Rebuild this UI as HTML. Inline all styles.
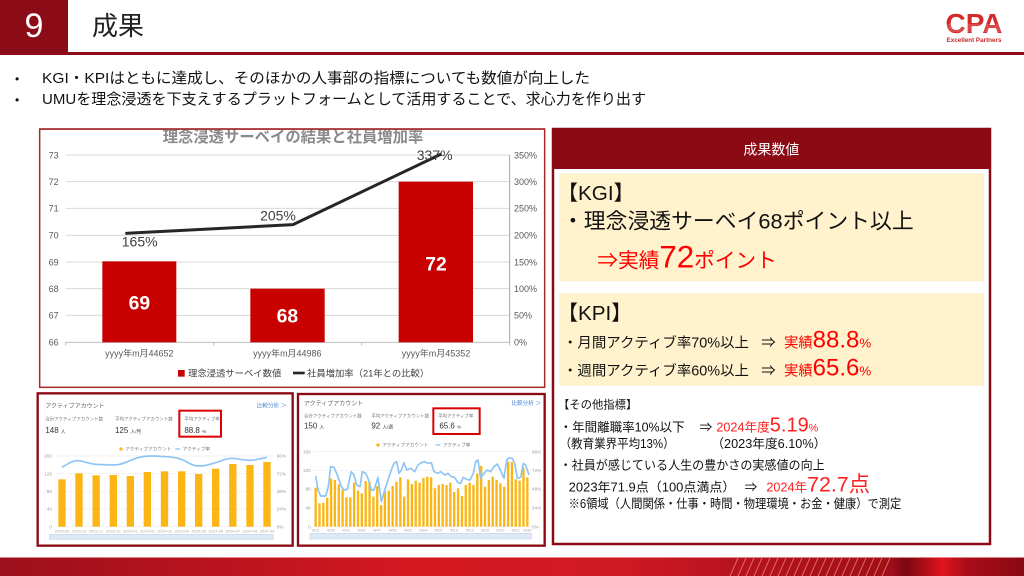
<!DOCTYPE html>
<html><head><meta charset="utf-8"><style>
html,body{margin:0;padding:0;background:#fff;width:1024px;height:576px;overflow:hidden;}
svg{display:block;}
text{font-family:"Liberation Sans","Noto Sans CJK JP",sans-serif;}
.n{font-family:"Liberation Sans Narrow","Liberation Sans","Noto Sans CJK JP",sans-serif;}
</style></head><body>
<svg width="1024" height="576" viewBox="0 0 1024 576" xmlns="http://www.w3.org/2000/svg">
<defs>
<linearGradient id="strip" x1="0" x2="1" y1="0" y2="0">
 <stop offset="0" stop-color="#9c0f1c"/>
 <stop offset="0.4" stop-color="#d41820"/>
 <stop offset="0.6" stop-color="#d01a22"/>
 <stop offset="0.72" stop-color="#b81220"/>
 <stop offset="0.87" stop-color="#a00e1a"/>
 <stop offset="0.885" stop-color="#7a0812"/>
 <stop offset="0.92" stop-color="#e0141e"/>
 <stop offset="0.945" stop-color="#a80c18"/>
 <stop offset="1" stop-color="#8a0a14"/>
</linearGradient>
<clipPath id="c1"><rect x="5" y="15" width="1515" height="775"/></clipPath>
</defs>

<!-- Header -->
<rect x="0" y="0" width="68" height="53" fill="#8b0b16"/>
<rect x="0" y="52" width="1024" height="3" fill="#8b0b16"/>
<text x="34" y="37" font-size="34" fill="#fff" text-anchor="middle">9</text>
<text x="92" y="35" font-size="26" fill="#222" font-family="Noto Sans CJK JP, sans-serif">成果</text>
<text x="974" y="33" font-size="28" font-weight="bold" fill="#d42a2a" text-anchor="middle">CPA</text>
<g stroke="#fff" stroke-width="0.6" opacity="0.6">
<line x1="944" y1="25" x2="1004" y2="25"/><line x1="944" y1="27" x2="1004" y2="27"/><line x1="944" y1="29" x2="1004" y2="29"/><line x1="944" y1="31" x2="1004" y2="31"/>
</g>
<text x="974" y="42" font-size="6.3" font-weight="bold" fill="#c82828" text-anchor="middle">Excellent Partners</text>

<!-- Bullets -->
<text x="15" y="83" font-size="12" fill="#111">•</text>
<text x="42" y="83" font-size="15" fill="#111" textLength="548" lengthAdjust="spacingAndGlyphs">KGI・KPIはともに達成し、そのほかの人事部の指標についても数値が向上した</text>
<text x="15" y="104" font-size="12" fill="#111">•</text>
<text x="42" y="104" font-size="15" fill="#111" textLength="604" lengthAdjust="spacingAndGlyphs">UMUを理念浸透を下支えするプラットフォームとして活用することで、求心力を作り出す</text>

<!-- Main chart -->
<g transform="translate(38,124) scale(0.33333)">
<rect x="5" y="15" width="1515" height="775" fill="#fff" stroke="#a52a2a" stroke-width="4.5"/>
<g clip-path="url(#c1)">
<text x="765" y="54" font-size="46" font-weight="bold" fill="#8a8a8a" text-anchor="middle">理念浸透サーベイの結果と社員増加率</text>
</g>
<rect x="5" y="13" width="1515" height="4.5" fill="#a52a2a"/>
<g stroke="#d9d9d9" stroke-width="3">
<line x1="83" y1="93" x2="1415" y2="93"/><line x1="83" y1="173" x2="1415" y2="173"/><line x1="83" y1="253" x2="1415" y2="253"/><line x1="83" y1="334" x2="1415" y2="334"/><line x1="83" y1="414" x2="1415" y2="414"/><line x1="83" y1="494" x2="1415" y2="494"/><line x1="83" y1="574" x2="1415" y2="574"/>
</g>
<line x1="83" y1="655" x2="1415" y2="655" stroke="#bfbfbf" stroke-width="3"/>
<g stroke="#bfbfbf" stroke-width="3"><line x1="83" y1="655" x2="83" y2="665"/><line x1="527" y1="655" x2="527" y2="665"/><line x1="971" y1="655" x2="971" y2="665"/><line x1="1415" y1="655" x2="1415" y2="665"/></g>
<line x1="1415" y1="93" x2="1415" y2="655" stroke="#a6a6a6" stroke-width="3"/>
<g font-size="27" fill="#595959" text-anchor="end" class="n">
<text x="62" y="103" class="n">73</text><text x="62" y="183" class="n">72</text><text x="62" y="263" class="n">71</text><text x="62" y="344" class="n">70</text><text x="62" y="424" class="n">69</text><text x="62" y="504" class="n">68</text><text x="62" y="584" class="n">67</text><text x="62" y="665" class="n">66</text>
</g>
<g font-size="27" fill="#595959">
<text x="1428" y="103" class="n">350%</text><text x="1428" y="183" class="n">300%</text><text x="1428" y="263" class="n">250%</text><text x="1428" y="344" class="n">200%</text><text x="1428" y="424" class="n">150%</text><text x="1428" y="504" class="n">100%</text><text x="1428" y="584" class="n">50%</text><text x="1428" y="665" class="n">0%</text>
</g>
<rect x="193" y="412" width="222" height="243" fill="#c80000"/>
<rect x="637" y="494" width="223" height="161" fill="#c80000"/>
<rect x="1082" y="173" width="223" height="482" fill="#c80000"/>
<g font-size="58" font-weight="bold" fill="#fff" text-anchor="middle">
<text x="304" y="556" class="n">69</text><text x="748" y="596" class="n">68</text><text x="1194" y="439" class="n">72</text>
</g>
<polyline points="262,328 765,302 1210,90" fill="none" stroke="#262626" stroke-width="9"/>
<g font-size="42" fill="#404040" text-anchor="middle">
<text x="305" y="367" class="n">165%</text><text x="720" y="290" class="n">205%</text><text x="1190" y="108" class="n">337%</text>
</g>
<g font-size="27" fill="#595959" text-anchor="middle">
<text x="304" y="698">yyyy年m月44652</text><text x="748" y="698">yyyy年m月44986</text><text x="1194" y="698">yyyy年m月45352</text>
</g>
<rect x="420" y="738" width="20" height="20" fill="#c80000"/>
<text x="450" y="757" font-size="28" fill="#404040">理念浸透サーベイ数値</text>
<line x1="765" y1="747" x2="800" y2="747" stroke="#262626" stroke-width="8"/>
<text x="807" y="757" font-size="28" fill="#404040">社員増加率（21年との比較）</text>
</g>

<!-- Small chart 1 -->
<g transform="translate(36,390) scale(0.33333)">
<rect x="5" y="10" width="765" height="457" fill="#fff" stroke="#8b0a14" stroke-width="7"/>
<text x="28" y="54" font-size="18" fill="#666">アクティブアカウント</text>
<text x="662" y="53" font-size="17" fill="#4a7fd4">比較分析 ＞</text>
<g font-size="13.5" fill="#777"><text x="28" y="92">合計アクティブアカウント数</text><text x="237" y="92">平均アクティブアカウント数</text><text x="445" y="92">平均アクティブ率</text></g>
<g font-size="24" fill="#333"><text x="28" y="129">148 <tspan font-size="14">人</tspan></text><text x="237" y="129">125 <tspan font-size="14">人/月</tspan></text><text x="445" y="129">88.8 <tspan font-size="14">%</tspan></text></g>
<rect x="430" y="62" width="125" height="78" fill="none" stroke="#d00" stroke-width="6"/>
<circle cx="255" cy="177" r="5" fill="#fbb615"/>
<text x="268" y="182" font-size="14" fill="#777">アクティブアカウント</text>
<line x1="418" y1="177" x2="432" y2="177" stroke="#8ec5f5" stroke-width="4"/>
<text x="440" y="182" font-size="14" fill="#777">アクティブ率</text>
<g stroke="#eee" stroke-width="2"><line x1="60" y1="198" x2="712" y2="198"/><line x1="60" y1="251" x2="712" y2="251"/><line x1="60" y1="304" x2="712" y2="304"/><line x1="60" y1="357" x2="712" y2="357"/><line x1="60" y1="410" x2="712" y2="410"/></g>
<g font-size="14" fill="#999" text-anchor="end"><text x="48" y="203">160</text><text x="48" y="256">120</text><text x="48" y="309">80</text><text x="48" y="362">40</text><text x="48" y="415">0</text></g>
<g font-size="14" fill="#999"><text x="722" y="203">96%</text><text x="722" y="256">72%</text><text x="722" y="309">48%</text><text x="722" y="362">24%</text><text x="722" y="415">0%</text></g>
<g fill="#fbb615">
<rect x="67" y="268" width="22" height="142"/><rect x="118" y="250" width="22" height="160"/><rect x="169.5" y="256" width="22" height="154"/><rect x="221" y="255" width="22" height="155"/><rect x="272" y="258" width="22" height="152"/><rect x="323" y="246" width="22" height="164"/><rect x="374.5" y="244" width="22" height="166"/><rect x="426" y="244" width="22" height="166"/><rect x="477" y="252" width="22" height="158"/><rect x="528" y="236" width="22" height="174"/><rect x="579.5" y="222" width="22" height="188"/><rect x="631" y="225" width="22" height="185"/><rect x="682" y="216" width="22" height="194"/>
</g>
<path d="M78,232 C100,218 115,210 130,212 S160,222 180,223 S225,226 245,224 S285,208 310,202 S360,198 390,200 S430,205 445,212 S470,228 490,228 S525,222 545,216 S575,204 590,205 S630,212 645,211 S680,205 693,202" fill="none" stroke="#8ec5f5" stroke-width="5"/>
<g font-size="12" fill="#aaa" text-anchor="middle"><text x="78" y="428">2023-09</text><text x="129" y="428">2023-10</text><text x="180" y="428">2023-11</text><text x="232" y="428">2023-12</text><text x="283" y="428">2024-01</text><text x="334" y="428">2024-02</text><text x="386" y="428">2024-03</text><text x="437" y="428">2024-04</text><text x="488" y="428">2024-05</text><text x="539" y="428">2024-06</text><text x="590" y="428">2024-07</text><text x="642" y="428">2024-08</text><text x="693" y="428">2024-09</text></g>
<rect x="40" y="433" width="672" height="15" fill="#dde9f7" stroke="#c7d6ea" stroke-width="2"/>
</g>

<!-- Small chart 2 -->
<g transform="translate(294,390) scale(0.33333)">
<rect x="12" y="12" width="740" height="455" fill="#fff" stroke="#8b0a14" stroke-width="7"/>
<text x="30" y="46" font-size="18" fill="#666">アクティブアカウント</text>
<text x="652" y="45" font-size="17" fill="#4a7fd4">比較分析 ＞</text>
<g font-size="13.5" fill="#777"><text x="30" y="82">合計アクティブアカウント数</text><text x="232" y="82">平均アクティブアカウント数</text><text x="432" y="82">平均アクティブ率</text></g>
<g font-size="24" fill="#333"><text x="30" y="116">150 <tspan font-size="14">人</tspan></text><text x="232" y="116">92 <tspan font-size="14">人/週</tspan></text><text x="436" y="116">65.6 <tspan font-size="14">%</tspan></text></g>
<rect x="418" y="55" width="139" height="77" fill="none" stroke="#d00" stroke-width="6"/>
<circle cx="252" cy="165" r="5" fill="#fbb615"/>
<text x="265" y="170" font-size="14" fill="#777">アクティブアカウント</text>
<line x1="425" y1="165" x2="439" y2="165" stroke="#8ec5f5" stroke-width="4"/>
<text x="447" y="170" font-size="14" fill="#777">アクティブ率</text>
<g stroke="#eee" stroke-width="2"><line x1="60" y1="185" x2="708" y2="185"/><line x1="60" y1="241" x2="708" y2="241"/><line x1="60" y1="297" x2="708" y2="297"/><line x1="60" y1="354" x2="708" y2="354"/><line x1="60" y1="410" x2="708" y2="410"/></g>
<g font-size="14" fill="#999" text-anchor="end"><text x="50" y="190">160</text><text x="50" y="246">120</text><text x="50" y="302">80</text><text x="50" y="359">40</text><text x="50" y="415">0</text></g>
<g font-size="14" fill="#999"><text x="714" y="190">96%</text><text x="714" y="246">72%</text><text x="714" y="302">48%</text><text x="714" y="359">24%</text><text x="714" y="415">0%</text></g>
<g fill="#fbb615">
<rect x="61.5" y="293" width="7" height="117"/><rect x="73" y="340" width="7" height="70"/><rect x="84.6" y="338" width="7" height="72"/><rect x="96.1" y="323" width="7" height="87"/><rect x="107.7" y="266" width="7" height="144"/><rect x="119.2" y="270" width="7" height="140"/><rect x="130.8" y="283" width="7" height="127"/><rect x="142.3" y="300" width="7" height="110"/><rect x="153.9" y="322" width="7" height="88"/><rect x="165.4" y="322" width="7" height="88"/><rect x="177" y="278" width="7" height="132"/><rect x="188.5" y="302" width="7" height="108"/><rect x="200" y="310" width="7" height="100"/><rect x="211.6" y="273" width="7" height="137"/><rect x="223.1" y="275" width="7" height="135"/><rect x="234.7" y="320" width="7" height="90"/><rect x="246.2" y="288" width="7" height="122"/><rect x="257.8" y="345" width="7" height="65"/><rect x="269.3" y="302" width="7" height="108"/><rect x="280.9" y="302" width="7" height="108"/><rect x="292.4" y="288" width="7" height="122"/><rect x="303.9" y="275" width="7" height="135"/><rect x="315.5" y="262" width="7" height="148"/><rect x="327" y="320" width="7" height="90"/><rect x="338.6" y="268" width="7" height="142"/><rect x="350.1" y="282" width="7" height="128"/><rect x="361.7" y="272" width="7" height="138"/><rect x="373.2" y="278" width="7" height="132"/><rect x="384.8" y="264" width="7" height="146"/><rect x="396.3" y="260" width="7" height="150"/><rect x="407.9" y="262" width="7" height="148"/><rect x="419.4" y="295" width="7" height="115"/><rect x="430.9" y="285" width="7" height="125"/><rect x="442.5" y="282" width="7" height="128"/><rect x="454" y="285" width="7" height="125"/><rect x="465.6" y="278" width="7" height="132"/><rect x="477.1" y="306" width="7" height="104"/><rect x="488.7" y="295" width="7" height="115"/><rect x="500.2" y="318" width="7" height="92"/><rect x="511.8" y="285" width="7" height="125"/><rect x="523.3" y="278" width="7" height="132"/><rect x="534.8" y="285" width="7" height="125"/><rect x="546.4" y="250" width="7" height="160"/><rect x="557.9" y="228" width="7" height="182"/><rect x="569.5" y="290" width="7" height="120"/><rect x="581" y="270" width="7" height="140"/><rect x="592.6" y="260" width="7" height="150"/><rect x="604.1" y="270" width="7" height="140"/><rect x="615.7" y="280" width="7" height="130"/><rect x="627.2" y="290" width="7" height="120"/><rect x="638.8" y="215" width="7" height="195"/><rect x="650.3" y="216" width="7" height="194"/><rect x="661.8" y="268" width="7" height="142"/><rect x="673.4" y="272" width="7" height="138"/><rect x="684.9" y="232" width="7" height="178"/><rect x="696.5" y="262" width="7" height="148"/>
</g>
<polyline fill="none" stroke="#8ec5f5" stroke-width="5" stroke-linejoin="round" points="65,258 72,300 80,318 95,318 103,290 110,230 120,232 130,255 142,290 150,300 160,298 172,245 180,255 188,285 198,290 205,245 215,250 222,265 232,300 240,300 252,262 262,335 272,300 282,270 292,240 300,220 308,215 315,250 322,240 330,218 338,240 350,235 362,245 372,225 382,218 392,215 402,220 412,218 420,245 432,250 440,245 452,255 462,250 472,260 482,262 492,278 500,280 508,262 518,268 528,270 538,250 545,215 552,210 560,265 570,250 580,240 590,245 600,230 610,222 620,242 630,265 638,210 645,204 655,205 662,220 670,265 680,262 688,220 695,225 705,255"/>
<g font-size="12" fill="#aaa" text-anchor="middle"><text x="65" y="425">W31</text><text x="111" y="425">W36</text><text x="157" y="425">W41</text><text x="203" y="425">W46</text><text x="249" y="425">W47</text><text x="296" y="425">W50</text><text x="342" y="425">W03</text><text x="388" y="425">W04</text><text x="434" y="425">W07</text><text x="480" y="425">W10</text><text x="527" y="425">W12</text><text x="573" y="425">W16</text><text x="619" y="425">W19</text><text x="665" y="425">W22</text><text x="700" y="425">W30</text></g>
<rect x="48" y="430" width="664" height="17" fill="#dde9f7" stroke="#c7d6ea" stroke-width="2"/>
</g>

<!-- Right panel -->
<rect x="553" y="129" width="437" height="415" fill="#fff" stroke="#8b0a14" stroke-width="2.5"/>
<rect x="552" y="128" width="439" height="41" fill="#8b0a14"/>
<g transform="translate(548,124) scale(0.33333)">
<text x="670" y="91" font-size="42" fill="#fff" text-anchor="middle">成果数値</text>
<rect x="33" y="148" width="1275" height="324" fill="#fff2cc"/>
<text x="28" y="228" font-size="62" fill="#111">【KGI】</text>
<text x="42" y="314" font-size="65" fill="#111" textLength="1055" lengthAdjust="spacingAndGlyphs">・理念浸透サーベイ68ポイント以上</text>
<text x="148" y="430" font-size="62" fill="#ff0000">⇒実績<tspan font-size="94">72</tspan>ポイント</text>
<rect x="33" y="508" width="1275" height="277" fill="#fff2cc"/>
<text x="28" y="588" font-size="62" fill="#111">【KPI】</text>
<text x="45" y="671" font-size="43" fill="#111" textLength="558" lengthAdjust="spacingAndGlyphs">・月間アクティブ率70%以上</text>
<text x="640" y="671" font-size="43" fill="#111">⇒</text>
<text x="708" y="671" font-size="43" fill="#ff0000">実績<tspan font-size="72">88.8</tspan><tspan font-size="40">%</tspan></text>
<text x="45" y="754" font-size="43" fill="#111" textLength="558" lengthAdjust="spacingAndGlyphs">・週間アクティブ率60%以上</text>
<text x="640" y="754" font-size="43" fill="#111">⇒</text>
<text x="708" y="754" font-size="43" fill="#ff0000">実績<tspan font-size="72">65.6</tspan><tspan font-size="40">%</tspan></text>
</g>
<g transform="translate(548,385) scale(0.33333)">
<text x="30" y="71" font-size="34" fill="#111">【その他指標】</text>
<text x="35" y="139" font-size="38" fill="#111" textLength="375" lengthAdjust="spacingAndGlyphs">・年間離職率10%以下</text>
<text x="455" y="139" font-size="38" fill="#111">⇒</text>
<text x="505" y="139" font-size="38" fill="#ff1f1f">2024年度<tspan font-size="60">5.19</tspan><tspan font-size="32">%</tspan></text>
<text x="35" y="189" font-size="38" fill="#111" textLength="345" lengthAdjust="spacingAndGlyphs">（教育業界平均13%）</text>
<text x="490" y="189" font-size="38" fill="#111" textLength="345" lengthAdjust="spacingAndGlyphs">（2023年度6.10%）</text>
<text x="35" y="254" font-size="38" fill="#111" textLength="795" lengthAdjust="spacingAndGlyphs">・社員が感じている人生の豊かさの実感値の向上</text>
<text x="62" y="319" font-size="38" fill="#111" textLength="500" lengthAdjust="spacingAndGlyphs">2023年71.9点（100点満点）</text>
<text x="590" y="319" font-size="38" fill="#111">⇒</text>
<text x="655" y="319" font-size="38" fill="#ff1f1f">2024年<tspan font-size="64">72.7点</tspan></text>
<text x="62" y="369" font-size="38" fill="#111" textLength="998" lengthAdjust="spacingAndGlyphs">※6領域（人間関係・仕事・時間・物理環境・お金・健康）で測定</text>
</g>

<!-- Bottom strip -->
<rect x="0" y="557" width="1024" height="19" fill="url(#strip)"/>
<rect x="0" y="557" width="1024" height="1" fill="#e9a3a3" opacity="0.8"/>
<g stroke="#f4a070" stroke-width="0.9" opacity="0.75">
<line x1="730" y1="576" x2="738" y2="558"/><line x1="738" y1="576" x2="746" y2="558"/><line x1="746" y1="576" x2="754" y2="558"/><line x1="754" y1="576" x2="762" y2="558"/><line x1="762" y1="576" x2="770" y2="558"/><line x1="770" y1="576" x2="778" y2="558"/><line x1="778" y1="576" x2="786" y2="558"/><line x1="786" y1="576" x2="794" y2="558"/><line x1="794" y1="576" x2="802" y2="558"/><line x1="802" y1="576" x2="810" y2="558"/><line x1="810" y1="576" x2="818" y2="558"/><line x1="818" y1="576" x2="826" y2="558"/><line x1="826" y1="576" x2="834" y2="558"/><line x1="834" y1="576" x2="842" y2="558"/><line x1="842" y1="576" x2="850" y2="558"/><line x1="850" y1="576" x2="858" y2="558"/><line x1="858" y1="576" x2="866" y2="558"/><line x1="866" y1="576" x2="874" y2="558"/><line x1="874" y1="576" x2="882" y2="558"/><line x1="882" y1="576" x2="890" y2="558"/>
</g>
</svg>
</body></html>
